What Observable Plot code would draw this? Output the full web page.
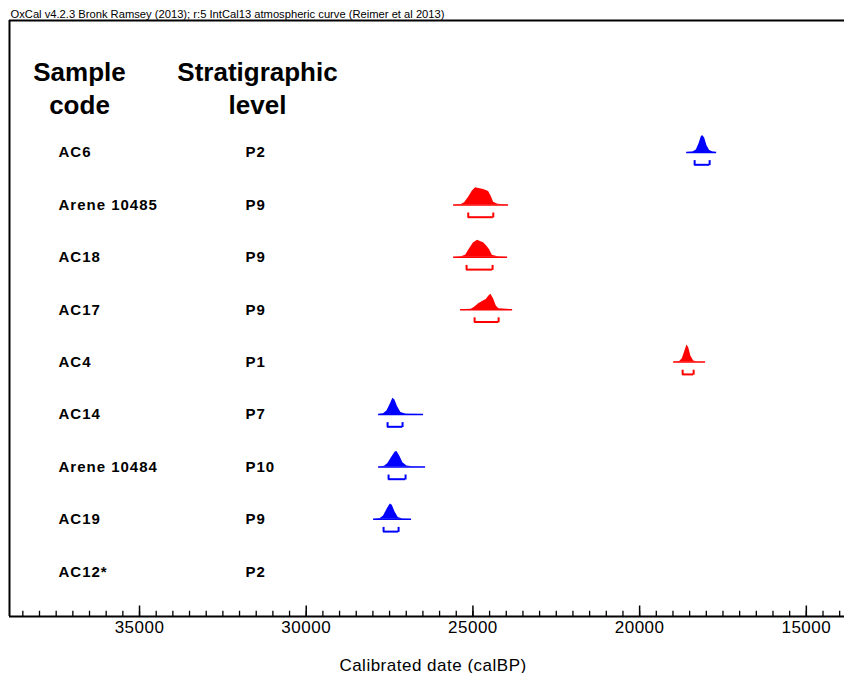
<!DOCTYPE html>
<html><head><meta charset="utf-8">
<script src="https://cdn.jsdelivr.net/npm/d3@7"></script>
<script src="https://cdn.jsdelivr.net/npm/@observablehq/plot@0.6"></script>
<style>body{margin:0;background:#fff;}</style>
</head><body><div id="chart"></div>
<script>
// ---- data ----
const headerText = "OxCal v4.2.3 Bronk Ramsey (2013); r:5 IntCal13 atmospheric curve (Reimer et al 2013)";
const sampleCodes = ["AC6", "Arene 10485", "AC18", "AC17", "AC4", "AC14", "Arene 10484", "AC19", "AC12*"];
const levels = ["P2", "P9", "P9", "P9", "P1", "P7", "P10", "P9", "P2"];
const groups = ["blue", "red", "red", "red", "red", "blue", "blue", "blue", null];
// 95% ranges (calBP)
const rangeStart = [18350, 25140, 25190, 24950, 18710, 27560, 27530, 27680, null];
const rangeEnd   = [17900, 24390, 24410, 24230, 18380, 27110, 27020, 27230, null];
// probability profiles [date calBP, relative density]
const pAC6 = [[18590,0],[18400,0.03],[18300,0.15],[18220,0.5],[18150,0.92],[18110,1],[18050,0.85],[17980,0.4],[17900,0.12],[17800,0.03],[17690,0]];
const pA10485 = [[25580,0],[25350,0.03],[25250,0.12],[25130,0.45],[25020,0.8],[24920,1],[24820,0.97],[24680,0.9],[24530,0.78],[24450,0.5],[24380,0.15],[24250,0.04],[23930,0]];
const pAC18 = [[25580,0],[25350,0.03],[25220,0.12],[25100,0.5],[24980,0.85],[24860,1],[24760,0.92],[24680,0.85],[24580,0.65],[24500,0.45],[24420,0.12],[24250,0.03],[23960,0]];
const pAC17 = [[25370,0],[25050,0.03],[24950,0.15],[24830,0.35],[24700,0.5],[24600,0.6],[24520,0.8],[24460,0.9],[24380,0.63],[24300,0.22],[24220,0.05],[23810,0]];
const pAC4 = [[18980,0],[18800,0.03],[18720,0.2],[18640,0.65],[18580,1],[18530,0.85],[18460,0.35],[18380,0.06],[18250,0.01],[18020,0]];
const pAC14 = [[27830,0],[27680,0.04],[27580,0.2],[27480,0.6],[27400,0.95],[27340,0.85],[27260,0.45],[27160,0.12],[27000,0.02],[26480,0]];
const pA10484 = [[27830,0],[27650,0.04],[27550,0.2],[27440,0.55],[27330,0.88],[27280,0.9],[27200,0.65],[27100,0.25],[26980,0.05],[26800,0.01],[26420,0]];
const pAC19 = [[27980,0],[27780,0.04],[27680,0.2],[27570,0.6],[27480,0.9],[27420,0.82],[27340,0.45],[27240,0.1],[27100,0.02],[26840,0]];
const profiles = [pAC6, pA10485, pAC18, pAC17, pAC4, pAC14, pA10484, pAC19, null];
const majorTicks = [35000, 30000, 25000, 20000, 15000];
const minorTicks = d3.range(14000, 39000, 500);
const xLabel = "Calibrated date (calBP)";

// ---- build tables ----
const rows = sampleCodes.map((code, i) => ({
  code, level: levels[i], row: i, group: groups[i],
  from: rangeStart[i], to: rangeEnd[i],
  lo: profiles[i] ? profiles[i][0][0] : null,
  hi: profiles[i] ? profiles[i][profiles[i].length - 1][0] : null
}));
const withCurve = rows.filter(r => r.group);
const curvePts = rows.flatMap((r, i) => profiles[i] ? profiles[i].map(([date, dens]) => ({code: r.code, row: i, group: r.group, date, dens})) : []);

const yTop = -2.519, yBottom = 8.855;
const peak = 0.325;

const chart = Plot.plot({
  width: 844, height: 673,
  marginLeft: 9, marginRight: 0, marginTop: 20, marginBottom: 57,
  style: {fontFamily: "'Liberation Sans', Arial, sans-serif", color: "black", background: "white"},
  x: {domain: [38900, 13855], axis: null},
  y: {domain: [yTop, yBottom], reverse: true, axis: null},
  color: {domain: ["blue", "red"], range: ["#2020f2", "#ff2222"]},
  marks: [
    // frame
    Plot.ruleY([yTop], {strokeWidth: 2}),
    Plot.ruleY([yBottom], {strokeWidth: 2}),
    Plot.ruleX([38900], {strokeWidth: 2}),
    // ticks pointing up
    Plot.ruleX(minorTicks, {x: d => d, y1: yBottom, y2: yBottom - 0.1, strokeWidth: 1.3}),
    Plot.ruleX(majorTicks, {x: d => d, y1: yBottom, y2: yBottom - 0.2, strokeWidth: 1.5}),
    Plot.axisX(majorTicks, {anchor: "bottom", tickSize: 0, tickPadding: 4, tickFormat: "d", fontSize: 17, label: null}),
    Plot.text([xLabel], {frameAnchor: "bottom", dx: 6, dy: 54, lineAnchor: "bottom", fontSize: 17}),
    // top caption
    Plot.text([headerText], {frameAnchor: "top-left", dx: 1, dy: -3, textAnchor: "start", lineAnchor: "bottom", fontSize: 11.2}),
    // column headers
    Plot.text(["Sample\ncode"], {frameAnchor: "top-left", dx: 70, dy: 37, textAnchor: "middle", lineAnchor: "top", lineHeight: 1.27, fontSize: 26, fontWeight: "bold"}),
    Plot.text(["Stratigraphic\nlevel"], {frameAnchor: "top-left", dx: 248, dy: 37, textAnchor: "middle", lineAnchor: "top", lineHeight: 1.27, fontSize: 26, fontWeight: "bold"}),
    // row labels
    Plot.text(rows, {y: "row", text: "code", frameAnchor: "left", dx: 49, textAnchor: "start", fontSize: 15, fontWeight: "bold"}),
    Plot.text(rows, {y: "row", text: "level", frameAnchor: "left", dx: 236, textAnchor: "start", fontSize: 15, fontWeight: "bold"}),
    // distributions
    Plot.areaY(curvePts, {x: "date", y1: "row", y2: d => d.row - d.dens * peak, z: "code", fill: "group", curve: "linear"}),
    Plot.ruleY(withCurve, {y: "row", x1: "lo", x2: "hi", stroke: "group", strokeWidth: 1.5}),
    // 95% range brackets
    Plot.ruleY(withCurve, {y: d => d.row + 0.235, x1: "from", x2: "to", stroke: "group", strokeWidth: 2}),
    Plot.ruleX(withCurve, {x: "from", y1: d => d.row + 0.155, y2: d => d.row + 0.25, stroke: "group", strokeWidth: 2}),
    Plot.ruleX(withCurve, {x: "to", y1: d => d.row + 0.155, y2: d => d.row + 0.25, stroke: "group", strokeWidth: 2})
  ]
});
chart.querySelectorAll('g[font-size="15"] text').forEach(t => t.setAttribute("letter-spacing", "1"));
chart.querySelectorAll('g[font-size="17"] text').forEach(t => t.setAttribute("letter-spacing", "0.5"));
document.getElementById("chart").appendChild(chart);
</script>
</body></html>
